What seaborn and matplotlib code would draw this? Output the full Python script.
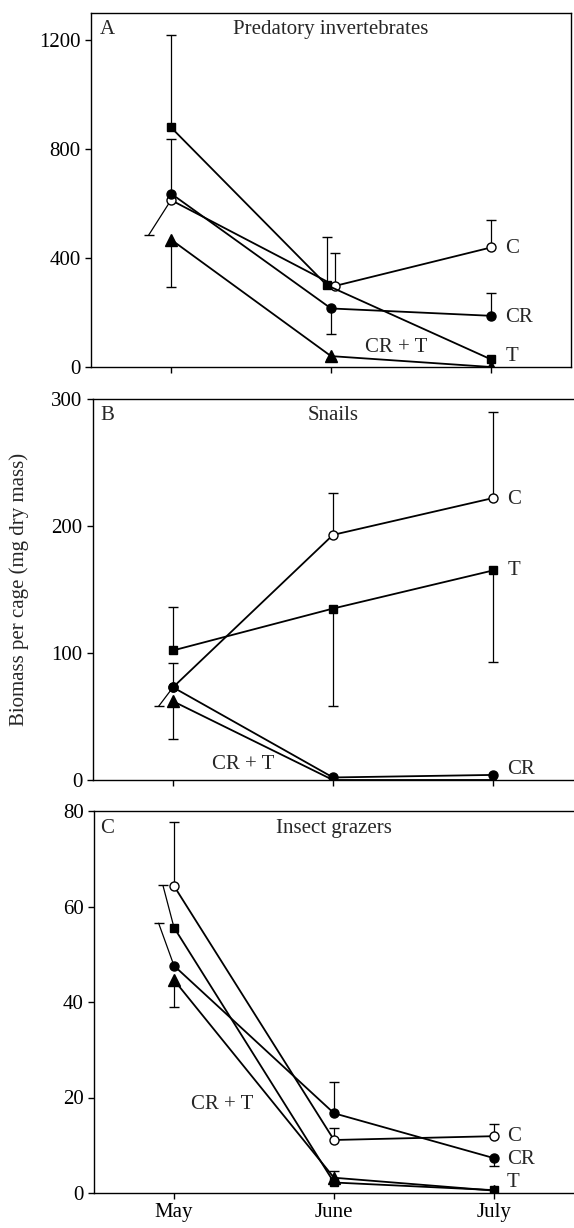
import numpy as np
import matplotlib
matplotlib.use("Agg")
import matplotlib.pyplot as plt
import seaborn as sns

# Biomass per cage in three months, four cage treatments
months = ["May", "June", "July"]
month_pos = [0, 1, 2]

# Panel A - predatory invertebrates
pred_c = [613, 298, 439]
pred_cr = [637, 215, 188]
pred_t = [880, 300, 28]
pred_crt = [468, 40, 0]
pred_c_err = [-129, 119, 101]
pred_cr_err = [200, -95, 82]
pred_t_err = [340, 177, np.nan]
pred_crt_err = [-173, -12, np.nan]

# Panel B - snails
snail_c = [73, 193, 222]
snail_cr = [73, 2, 4]
snail_t = [102, 135, 165]
snail_crt = [62, 0, 0]
snail_c_err = [-15, 33, 68]
snail_cr_err = [19, np.nan, np.nan]
snail_t_err = [34, -77, -72]
snail_crt_err = [-30, np.nan, np.nan]

# Panel C - insect grazers
graz_c = [64.3, 11.1, 11.9]
graz_cr = [47.6, 16.7, 7.3]
graz_t = [55.6, 2.2, 0.6]
graz_crt = [44.6, 3.2, 0.5]
graz_c_err = [13.5, 2.6, 2.5]
graz_cr_err = [8.9, 6.6, -1.6]
graz_t_err = [8.8, np.nan, np.nan]
graz_crt_err = [-5.6, 1.4, np.nan]

sns.set_style("ticks")
plt.rcParams["font.family"] = ["Liberation Serif", "DejaVu Serif"]

fig = plt.figure(figsize=(5.74, 12.28), dpi=100)
ax_a = fig.add_axes([91 / 574, 1 - 367 / 1228, 480 / 574, 354 / 1228])
ax_b = fig.add_axes([93 / 574, 1 - 780 / 1228, 480 / 574, 381 / 1228])
ax_c = fig.add_axes([94 / 574, 1 - 1193 / 1228, 480 / 574, 382 / 1228])

styles = {
    "C": dict(marker="o", markersize=6.5, markerfacecolor="white"),
    "CR": dict(marker="o", markersize=6.5, markerfacecolor="black"),
    "T": dict(marker="s", markersize=6, markerfacecolor="black"),
    "CR + T": dict(marker="^", markersize=8, markerfacecolor="black"),
}


def draw_series(ax, name, vals, errs, shift=(0, 0, 0), skew=(0, 0, 0)):
    xs = [p + s for p, s in zip(month_pos, shift)]
    # error bars first so markers sit on top
    for x, v, e, k in zip(xs, vals, errs, skew):
        if np.isnan(e):
            continue
        ax.plot([x, x + k], [v, v + e], color="black", lw=0.9, zorder=2)
        ax.plot([x + k], [v + e], marker="_", ms=7, mew=1, color="black", zorder=2)
    sns.lineplot(x=xs, y=vals, ax=ax, color="black", linewidth=1.3,
                 markeredgecolor="black", markeredgewidth=1, zorder=3,
                 **styles[name])


# Panel A
draw_series(ax_a, "C", pred_c, pred_c_err, shift=(0, 0.027, 0), skew=(-0.14, 0, 0))
draw_series(ax_a, "T", pred_t, pred_t_err, shift=(0, -0.025, 0))
draw_series(ax_a, "CR", pred_cr, pred_cr_err)
draw_series(ax_a, "CR + T", pred_crt, pred_crt_err)
ax_a.set_ylim(0, 1300)
ax_a.set_yticks([0, 400, 800, 1200])
ax_a.text(2.09, 437, "C", fontsize=15, va="center")
ax_a.text(2.09, 183, "CR", fontsize=15, va="center")
ax_a.text(2.09, 37, "T", fontsize=15, va="center")
ax_a.text(1.41, 72, "CR + T", fontsize=15, ha="center", va="center")
ax_a.text(0.5, 0.952, "Predatory invertebrates", transform=ax_a.transAxes,
          fontsize=15, ha="center", va="center")
ax_a.text(0.035, 0.952, "A", transform=ax_a.transAxes, fontsize=15, ha="center", va="center")

# Panel B
draw_series(ax_b, "T", snail_t, snail_t_err)
draw_series(ax_b, "C", snail_c, snail_c_err, skew=(-0.09, 0, 0))
draw_series(ax_b, "CR + T", snail_crt, snail_crt_err)
draw_series(ax_b, "CR", snail_cr, snail_cr_err)
ax_b.set_ylim(0, 300)
ax_b.set_yticks([0, 100, 200, 300])
ax_b.text(2.09, 221, "C", fontsize=15, va="center")
ax_b.text(2.09, 165, "T", fontsize=15, va="center")
ax_b.text(2.09, 8, "CR", fontsize=15, va="center")
ax_b.text(0.44, 12, "CR + T", fontsize=15, ha="center", va="center")
ax_b.text(0.5, 0.958, "Snails", transform=ax_b.transAxes,
          fontsize=15, ha="center", va="center")
ax_b.text(0.029, 0.958, "B", transform=ax_b.transAxes, fontsize=15, ha="center", va="center")
ax_b.set_ylabel("Biomass per cage (mg dry mass)", fontsize=15)
ax_b.yaxis.set_label_coords(-0.133, 0.5)

# Panel C
draw_series(ax_c, "C", graz_c, graz_c_err)
draw_series(ax_c, "T", graz_t, graz_t_err, skew=(-0.069, 0, 0))
draw_series(ax_c, "CR", graz_cr, graz_cr_err, skew=(-0.096, 0, 0))
draw_series(ax_c, "CR + T", graz_crt, graz_crt_err)
ax_c.set_ylim(0, 80)
ax_c.set_yticks([0, 20, 40, 60, 80])
ax_c.text(2.08, 11.9, "C", fontsize=15, va="center")
ax_c.text(2.08, 7.1, "CR", fontsize=15, va="center")
ax_c.text(2.08, 2.1, "T", fontsize=15, va="center")
ax_c.text(0.30, 18.6, "CR + T", fontsize=15, ha="center", va="center")
ax_c.text(0.5, 0.955, "Insect grazers", transform=ax_c.transAxes,
          fontsize=15, ha="center", va="center")
ax_c.text(0.027, 0.955, "C", transform=ax_c.transAxes, fontsize=15, ha="center", va="center")

for ax in (ax_a, ax_b, ax_c):
    ax.set_xlim(-0.5, 2.5)
    ax.set_xticks(month_pos)
    ax.tick_params(direction="out", length=4, width=1, labelsize=15, colors="black")
    for sp in ax.spines.values():
        sp.set_linewidth(1)
        sp.set_color("black")
    ax.set_xlabel("")

ax_a.set_xticklabels([])
ax_b.set_xticklabels([])
ax_c.set_xticklabels(months)
ax_b.spines["right"].set_visible(False)
ax_c.spines["right"].set_visible(False)

fig.savefig("out.png", dpi=100)
